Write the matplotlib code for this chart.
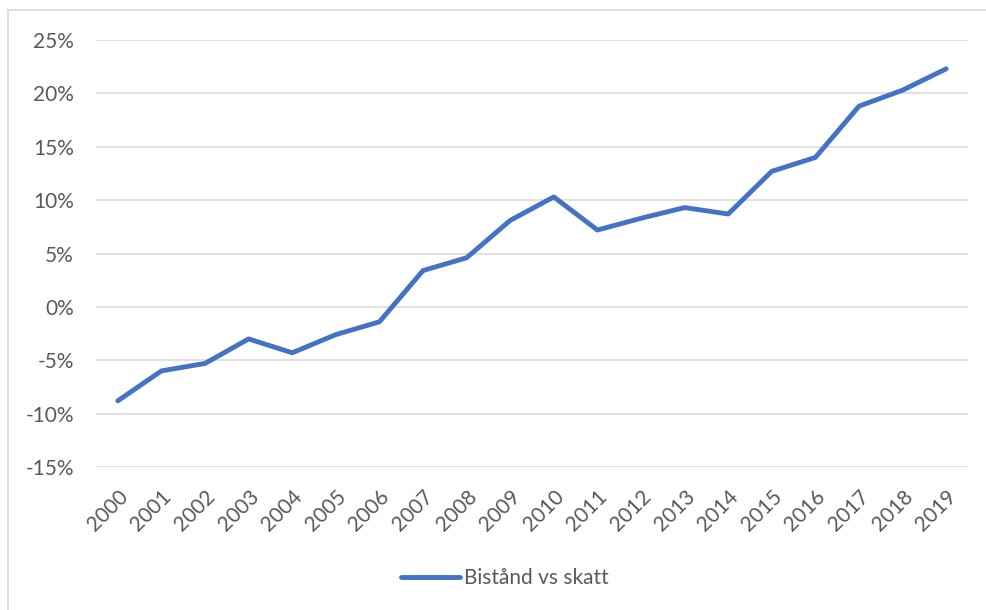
import matplotlib.pyplot as plt
from matplotlib.patches import Rectangle
from matplotlib.ticker import FuncFormatter

years = [str(y) for y in range(2000, 2020)]
values = [-8.8, -6.0, -5.3, -3.0, -4.3, -2.6, -1.4, 3.4, 4.6, 8.1,
          10.3, 7.2, 8.3, 9.3, 8.7, 12.7, 14.0, 18.8, 20.3, 22.3]
series_name = "Bistånd vs skatt"

plt.rcParams['font.family'] = ['Lato', 'DejaVu Sans']

fig = plt.figure(figsize=(9.86, 6.10), dpi=100)
W, H = 986, 610
ax = fig.add_axes([96 / W, 1 - 467 / H, (968 - 96) / W, (467 - 40) / H])

x = list(range(len(years)))
ax.plot(x, values, color='#4472C4', linewidth=3.5, solid_capstyle='round',
        solid_joinstyle='round', label=series_name, zorder=3)

ax.set_xlim(-0.5, len(years) - 0.5)
ax.set_ylim(-15, 25)
ax.set_yticks(range(-15, 30, 5))
ax.yaxis.set_major_formatter(FuncFormatter(lambda v, p: "{:.0f}%".format(v)))
ax.set_xticks(x)
ax.set_xticklabels(years, rotation=45, ha='right', rotation_mode='anchor')

ax.grid(axis='y', color='#d9d9d9', linewidth=1.1, zorder=0)
for s in ax.spines.values():
    s.set_visible(False)
ax.tick_params(axis='both', length=0, labelsize=15, colors='#595959')
ax.tick_params(axis='y', pad=16)
ax.tick_params(axis='x', pad=14)

fig.legend(loc='center', bbox_to_anchor=(505 / W, 1 - 578 / H), frameon=False,
           fontsize=15, labelcolor='#595959', handlelength=2.8, handletextpad=0.2)

fig.patches.append(Rectangle((8 / W, -0.1), 1.2, 1 - 10 / H + 0.1, transform=fig.transFigure,
                             fill=False, edgecolor='#d9d9d9', linewidth=1.2, zorder=0))

fig.savefig("out.png", dpi=100)
